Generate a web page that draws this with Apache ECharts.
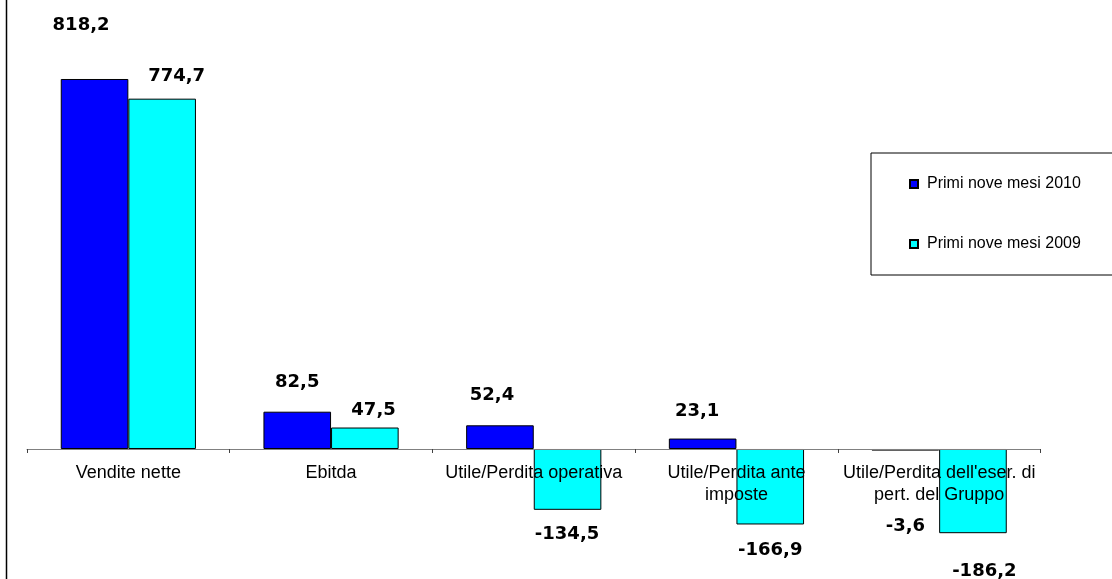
<!DOCTYPE html>
<html>
<head>
<meta charset="utf-8">
<script src="https://cdn.jsdelivr.net/npm/echarts@6/dist/echarts.min.js"></script>
<style>
  html, body { margin: 0; padding: 0; background: #fff; }
  #chart { width: 1112px; height: 579px; }
</style>
</head>
<body>
<div id="chart"></div>
<script>
// Categories and values (milioni di euro)
const categories = [
  'Vendite nette',
  'Ebitda',
  'Utile/Perdita operativa',
  'Utile/Perdita ante\nimposte',
  "Utile/Perdita dell'eser. di\npert. del Gruppo"
];
const seriesNames = ['Primi nove mesi 2010', 'Primi nove mesi 2009'];
const values2010 = [818.2, 82.5, 52.4, 23.1, -3.6];
const values2009 = [774.7, 47.5, -134.5, -166.9, -186.2];

// Value axis range (the zero line sits inside the plot)
const yMin = -200;
const yMax = 900;

// Hand-placed nudges for the value labels [dx, dy], per bar
const labelNudge2010 = [[-13.5, -44.7], [0, -20], [-8, -21.2], [-5.5, -18.3], [0, 66.7]];
const labelNudge2009 = [[14.5, -13.7], [8.7, -7.7], [-0.5, 15.2], [0, 16.8], [11.4, 29]];

const fmt = v => v.toFixed(1).replace('.', ',');

function barData(values, nudges) {
  return values.map((v, i) => ({
    value: v,
    label: {
      position: v >= 0 ? 'top' : 'bottom',
      offset: nudges[i]
    }
  }));
}

const labelStyle = {
  show: true,
  distance: 0,
  fontFamily: 'DejaVu Sans',
  fontWeight: 'bold',
  fontSize: 18,
  lineHeight: 18,
  color: '#000',
  formatter: p => fmt(p.value)
};

const gridTop = 42;
const gridBottom = 39.56;
const plotHeight = 579 - gridTop - gridBottom;
// distance from the grid's bottom edge up to the zero line
const zeroLift = plotHeight * (0 - yMin) / (yMax - yMin);

const chart = echarts.init(document.getElementById('chart'), null, { renderer: 'canvas' });
chart.setOption({
  animation: false,
  backgroundColor: '#fff',
  grid: {
    left: 27, right: 71.5, top: gridTop, bottom: gridBottom,
    containLabel: false,
    outerBoundsMode: 'none'
  },
  legend: {
    orient: 'vertical',
    left: 871,
    top: 153,
    padding: [23, 40, 23, 38],
    itemGap: 44,
    itemWidth: 8,
    itemHeight: 8,
    icon: 'rect',
    borderColor: '#000',
    borderWidth: 1,
    textStyle: {
      fontFamily: 'Liberation Sans',
      fontSize: 16,
      color: '#000',
      padding: [0, 0, 0, 4]
    },
    data: seriesNames
  },
  xAxis: [
    {
      type: 'category',
      data: categories,
      z: 5,
      axisLine: { onZero: true, lineStyle: { color: '#808080', width: 1 } },
      axisTick: { show: true, length: 4, lineStyle: { color: '#404040' } },
      axisLabel: { show: false }
    },
    {
      // category names, written just under the zero line and over the bars
      type: 'category',
      data: categories,
      position: 'bottom',
      offset: -zeroLift,
      z: 6,
      axisLine: { show: false, onZero: false },
      axisTick: { show: false },
      axisLabel: {
        interval: 0,
        margin: 13,
        fontFamily: 'Liberation Sans',
        fontSize: 18,
        lineHeight: 22,
        color: '#000'
      }
    }
  ],
  yAxis: {
    type: 'value',
    min: yMin,
    max: yMax,
    show: false,
    splitLine: { show: false }
  },
  graphic: [{
    type: 'line',
    shape: { x1: 6.5, y1: 0, x2: 6.5, y2: 579 },
    style: { stroke: '#000', lineWidth: 1.5 }
  }],
  series: [
    {
      name: seriesNames[0],
      type: 'bar',
      barGap: '0%',
      barCategoryGap: '33.3%',
      itemStyle: { color: '#0000FF', borderColor: '#000', borderWidth: 1 },
      label: labelStyle,
      data: barData(values2010, labelNudge2010)
    },
    {
      name: seriesNames[1],
      type: 'bar',
      barGap: '0%',
      barCategoryGap: '33.3%',
      itemStyle: { color: '#00FFFF', borderColor: '#000', borderWidth: 1 },
      label: labelStyle,
      data: barData(values2009, labelNudge2009)
    }
  ]
});
</script>
</body>
</html>
